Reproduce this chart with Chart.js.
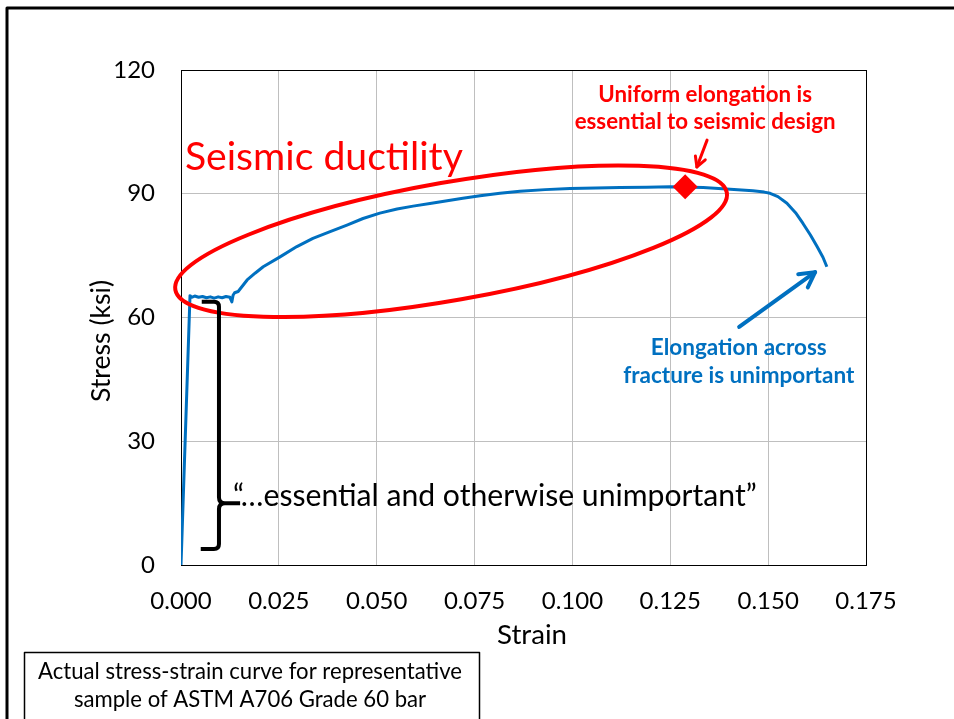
<!DOCTYPE html>
<html><head><meta charset="utf-8">
<script src="https://cdn.jsdelivr.net/npm/chart.js@4/dist/chart.umd.min.js"></script>
<style>
html,body{margin:0;padding:0;background:#fff;}
canvas{display:block;}
</style></head><body>
<canvas id="c" width="954" height="719"></canvas>
<script>
// ---- data ----
const strain = [0, 0.0023, 0.0027, 0.0035, 0.0045, 0.0055, 0.0065, 0.0075, 0.0085, 0.0095, 0.0105, 0.0115, 0.0125, 0.0130, 0.0133, 0.0137, 0.0146, 0.0169, 0.0190, 0.0210, 0.0253, 0.0296, 0.0337, 0.0381, 0.0424, 0.0465, 0.0508, 0.0552, 0.0593, 0.0640, 0.0680, 0.0720, 0.0764, 0.0815, 0.0866, 0.0930, 0.0994, 0.1060, 0.1122, 0.1190, 0.1249, 0.1334, 0.1403, 0.1461, 0.1490, 0.1505, 0.1525, 0.1548, 0.1570, 0.1589, 0.1608, 0.1625, 0.1640, 0.1650];
const stress = [0, 65.3, 64.9, 65.2, 64.9, 65.1, 64.8, 65.0, 64.7, 65.0, 64.8, 65.1, 64.9, 63.8, 65.4, 66.0, 66.3, 69.1, 70.8, 72.3, 74.7, 77.2, 79.2, 80.8, 82.4, 84.0, 85.3, 86.3, 87.0, 87.7, 88.3, 88.9, 89.5, 90.1, 90.6, 91.0, 91.3, 91.4, 91.5, 91.6, 91.7, 91.5, 91.1, 90.7, 90.4, 90.1, 89.3, 87.7, 85.4, 82.8, 80.0, 77.2, 74.6, 72.3];
const markerStrain = [0.1288];
const markerStress = [91.7];
const xTicks = [0, 0.025, 0.05, 0.075, 0.1, 0.125, 0.15, 0.175];
const yTicks = [0, 30, 60, 90, 120];
const xTitle = 'Strain';
const yTitle = 'Stress (ksi)';

const FONT = 'Lato';
const RED = '#FF0000', BLUE = '#0070C0';

function fitFont(ctx, text, weight, width){
  ctx.font = weight + ' 100px ' + FONT;
  const w = ctx.measureText(text).width;
  return weight + ' ' + (100 * width / w).toFixed(2) + 'px ' + FONT;
}
function arrow(ctx, x1, y1, x2, y2, color, lw, head){
  const ang = Math.atan2(y2 - y1, x2 - x1);
  ctx.save();
  ctx.strokeStyle = color; ctx.lineWidth = lw; ctx.lineCap = 'round'; ctx.lineJoin = 'round';
  ctx.beginPath(); ctx.moveTo(x1, y1); ctx.lineTo(x2, y2); ctx.stroke();
  ctx.beginPath();
  ctx.moveTo(x2 - head * Math.cos(ang - 0.5), y2 - head * Math.sin(ang - 0.5));
  ctx.lineTo(x2, y2);
  ctx.lineTo(x2 - head * Math.cos(ang + 0.5), y2 - head * Math.sin(ang + 0.5));
  ctx.stroke();
  ctx.restore();
}

const annot = {
  id: 'annot',
  beforeDatasetsDraw(chart){
    const {ctx, chartArea: a} = chart;
    ctx.save();
    ctx.strokeStyle = '#000'; ctx.lineWidth = 1;
    ctx.strokeRect(Math.round(a.left) + 0.5, Math.round(a.top) + 0.5, Math.round(a.right - a.left), Math.round(a.bottom - a.top));
    ctx.restore();
  },
  afterDraw(chart){
    const {ctx} = chart;
    const X = v => chart.scales.x.getPixelForValue(v);
    const Y = v => chart.scales.y.getPixelForValue(v);
    ctx.save();

    // ellipse "seismic ductility"
    ctx.strokeStyle = RED; ctx.lineWidth = 4;
    ctx.beginPath();
    ctx.ellipse(X(0.0690), Y(78.5), 280, 59, -10 * Math.PI / 180, 0, Math.PI * 2);
    ctx.stroke();

    // brace
    ctx.strokeStyle = '#000'; ctx.lineWidth = 4; ctx.lineJoin = 'round'; ctx.lineCap = 'butt';
    const bx = X(0.0097), bl = X(0.0053), bt = X(0.0151);
    const yTop = Y(63.8), yMid = Y(15.0), yBot = Y(3.9);
    ctx.beginPath();
    ctx.moveTo(bl, yTop); ctx.lineTo(bx - 5, yTop); ctx.quadraticCurveTo(bx, yTop, bx, yTop + 5);
    ctx.lineTo(bx, yMid - 6); ctx.quadraticCurveTo(bx, yMid, bx + 6, yMid); ctx.lineTo(bt, yMid);
    ctx.moveTo(bx + 6, yMid); ctx.quadraticCurveTo(bx, yMid, bx, yMid + 6);
    ctx.lineTo(bx, yBot - 5); ctx.quadraticCurveTo(bx, yBot, bx - 5, yBot); ctx.lineTo(bl - 1, yBot);
    ctx.stroke();

    // arrows
    arrow(ctx, X(0.1344), Y(103.0), X(0.1318), Y(96.5), RED, 3, 11);
    arrow(ctx, X(0.1426), Y(57.7), X(0.1620), Y(71.0), BLUE, 4, 17);

    // texts in plot
    ctx.textBaseline = 'middle'; ctx.textAlign = 'left';
    ctx.fillStyle = RED;
    ctx.font = fitFont(ctx, 'Seismic ductility', 'normal', 278);
    ctx.fillText('Seismic ductility', X(0.001), Y(98.8));

    ctx.textAlign = 'center';
    ctx.font = fitFont(ctx, 'essential to seismic design', 'bold', 261);
    ctx.fillText('Uniform elongation is', X(0.1339), Y(113.9));
    ctx.fillText('essential to seismic design', X(0.1339), Y(107.4));

    ctx.fillStyle = BLUE;
    ctx.font = fitFont(ctx, 'fracture is unimportant', 'bold', 231);
    ctx.fillText('Elongation across', X(0.1425), Y(52.6));
    ctx.fillText('fracture is unimportant', X(0.1425), Y(45.8));

    ctx.fillStyle = '#000'; ctx.textAlign = 'left';
    const q = '\u201C\u2026essential and otherwise unimportant\u201D';
    ctx.font = fitFont(ctx, q, 'normal', 524);
    ctx.fillText(q, X(0.0133), Y(16.7));

    // axis titles
    ctx.textAlign = 'center';
    ctx.font = fitFont(ctx, xTitle, 'normal', 70);
    ctx.fillText(xTitle, 532, 635);
    ctx.save();
    ctx.translate(101, 341); ctx.rotate(-Math.PI / 2);
    ctx.font = fitFont(ctx, yTitle, 'normal', 122);
    ctx.fillText(yTitle, 0, 0);
    ctx.restore();

    // outer frame
    ctx.strokeStyle = '#000'; ctx.lineWidth = 3; ctx.lineCap = 'butt';
    ctx.beginPath(); ctx.moveTo(7, 722); ctx.lineTo(7, 8); ctx.lineTo(956, 8); ctx.stroke();

    // caption box
    ctx.lineWidth = 1.5;
    ctx.strokeRect(24.5, 652.5, 455, 70);
    ctx.font = fitFont(ctx, 'Actual stress-strain curve for representative', 'normal', 424);
    ctx.fillText('Actual stress-strain curve for representative', 250, 672);
    ctx.fillText('sample of ASTM A706 Grade 60 bar', 250, 700);
    ctx.restore();
  }
};

const ctx = document.getElementById('c').getContext('2d');
new Chart(ctx, {
  type: 'scatter',
  data: {
    datasets: [
      {
        label: 'Uniform elongation',
        data: markerStrain.map((s, i) => ({x: s, y: markerStress[i]})),
        pointStyle: 'rectRot', pointRadius: 12.5, pointHoverRadius: 12.5,
        backgroundColor: RED, borderColor: RED, borderWidth: 0, order: 0
      },
      {
        label: 'Stress-strain',
        data: strain.map((s, i) => ({x: s, y: stress[i]})),
        showLine: true, borderColor: BLUE, borderWidth: 3, pointRadius: 0,
        tension: 0, borderJoinStyle: 'round', order: 1
      }
    ]
  },
  options: {
    responsive: false, animation: false, devicePixelRatio: 1,
    layout: {padding: {top: 70, right: 88, left: 0, bottom: 0}},
    plugins: {legend: {display: false}, tooltip: {enabled: false}},
    scales: {
      x: {
        type: 'linear', min: 0, max: 0.175,
        afterBuildTicks: s => { s.ticks = xTicks.map(v => ({value: v})); },
        afterFit: s => { s.height = 154; },
        ticks: {callback: v => Number(v).toFixed(3), font: {family: FONT, size: 24}, color: '#000', padding: 22, maxRotation: 0, autoSkip: false},
        grid: {color: '#bfbfbf', drawTicks: false, lineWidth: 1},
        border: {color: '#000', width: 1}
      },
      y: {
        type: 'linear', min: 0, max: 120,
        afterBuildTicks: s => { s.ticks = yTicks.map(v => ({value: v})); },
        afterFit: s => { s.width = 181; },
        ticks: {font: {family: FONT, size: 24}, color: '#000', padding: 26, autoSkip: false},
        grid: {color: '#bfbfbf', drawTicks: false, lineWidth: 1},
        border: {color: '#000', width: 1}
      }
    }
  },
  plugins: [annot]
});
</script>
</body></html>
